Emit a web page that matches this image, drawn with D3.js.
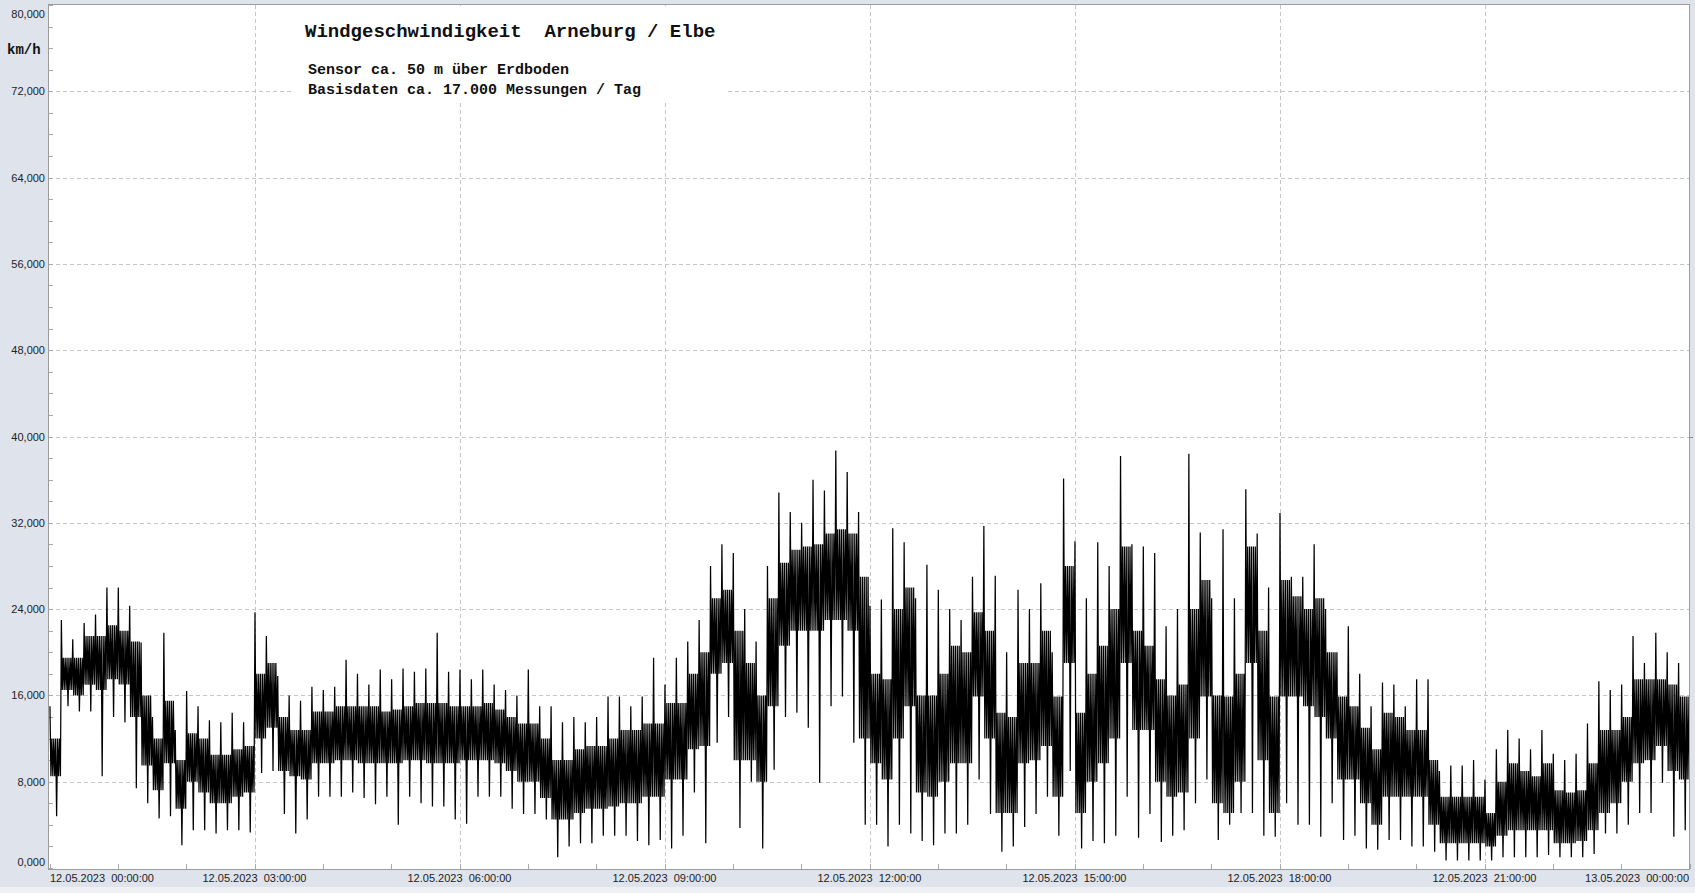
<!DOCTYPE html>
<html><head><meta charset="utf-8">
<script src="https://cdn.jsdelivr.net/npm/d3@7"></script>
<style>
html,body{margin:0;padding:0;background:#dfe3ec;overflow:hidden}
svg{display:block}
</style></head><body>
<svg id="c" width="1695" height="893"></svg>
<script>
// ---- data (km/h), 10-minute bins ----
const binMinutes = 10;
const startDate = "2023-05-12T00:00:00Z";
const endDate = "2023-05-13T00:00:00Z";
const yTicks = [0, 8, 16, 24, 32, 40, 48, 56, 64, 72, 80];
const xTickHours = [0, 3, 6, 9, 12, 15, 18, 21, 24];
const titleText = "Windgeschwindigkeit  Arneburg / Elbe";
const subText1 = "Sensor ca. 50 m über Erdboden";
const subText2 = "Basisdaten ca. 17.000 Messungen / Tag";
const unitText = "km/h";

const binLo = [4.8,15,14.5,14.5,8.5,14, 13.5,7.4,6,4.6,4.8,2.1, 3.5,3.5,3.2,3.5,3.5,3.3, 8.8,9,5,3.2,4.5,6.6,
 6.6,6.6,7,6.5,5.9,6.6, 4,6.6,6,5.7,5.7,4.5, 4.1,6.6,6.6,6.6,5.5,5, 5,4.5,1,2,2.3,2.3,
 3,3,3,2.5,2.1,2.6, 1.8,3,7,2.3,11.6,14, 3.7,8,1.8,9.1,14,14.4, 13,7.9,15,15.9,11.6,4,
 4,2,4,3.2,2.5,2.1, 3.2,3.2,4,8.2,5,1.5, 2,3.8,5,6.6,3,9, 1.8,2.5,2.3,3,6.6,2.8,
 5,2.4,3,3.5,6,8.2, 2.6,4,5.1,5.1,3,2.9, 6,4,4,2.9,6,2.6, 3,1.8,1.7,2.6,2.6,2,
 2,1.5,0.7,0.7,0.7,0.7, 0.7,1,1,1,1,1.2, 1,1,1,1.3,3.2,3.2, 4,5.1,5.1,7.9,2.9,3.5];
const binCoreLo = [8.5,16.5,16,17,16.5,17.5, 17,14,9.5,7.2,9.7,5.5, 8,7,6,6,6.6,7, 12,13,9,8.5,8.2,9.7,
 9.7,10,10,9.7,9.7,9.7, 9.7,10,10,9.7,9.7,9.7, 10,10,10,9.7,9,8, 8,6.5,4.5,4.5,5.1,5.5,
 5.5,5.7,6,6,6.6,6.6, 8.2,8.2,11,11.3,18,19, 10,10,8,15,20.6,22, 22,22,23,23,22,12,
 9.7,8.2,12,15,7,6.6, 8,9.7,9.7,15.9,12,5.1, 5.1,9.7,10,11.3,6.6,19, 5.1,8,9.7,12,19,12.8,
 12.8,8,6.6,7,12,15.9, 6,5.1,8,19,10,5.1, 15.9,15.9,15,14,12,8.2, 8.2,6,4,6.6,6.6,6.6,
 6.6,4,2.3,2.3,2.3,2.3, 2,3,3.5,3.5,3.5,3.5, 2.3,2.3,2.5,3.5,5.1,6, 8,9.7,10,11.3,9,8.2];
const binCoreHi = [12,19.5,19.5,21.5,21.5,22.5, 22,21,16,12,15.5,10, 12.5,12,10.5,10.5,11,11.3, 18,19,14,12.8,12.8,14.5,
 14.5,15,15,15,15,14.5, 14.7,15,15.3,15.3,15.3,15, 15,15,15.3,14.7,14,13.4, 13.4,12,10,10,11,11.3,
 11.3,12,12.8,12.8,13.4,13.4, 15.3,15.3,18,20,25,25.8, 22,19,16,25,28.3,29.5, 29.8,30,31,31.4,31,27,
 18,17.5,24,26,16,16, 18,20.6,20,23.7,22,14.4, 14,19,19,22,15.9,28, 14.4,18,20.6,24,29.8,22,
 20.6,17.5,16,17,24,26.7, 16,15.9,18,29.8,22,15.9, 26.7,25.2,24,25,20,15.9, 15,13,11,14.4,14,12.8,
 12.8,10,6.6,6.6,6.6,6.6, 5.1,8,9.7,9,8.5,9.7, 7.2,7,7.2,9.7,12.8,12.8, 14,17.5,17.5,17.5,17,15.9];
const binHi = [15,23,21.2,22.7,23.5,26, 26,24.3,20.9,14,21.8,12.8, 16.4,15,13.7,13.5,14.4,13.5, 23.7,21.5,17.8,16,15.5,16.8,
 16.5,16.8,19.3,18,17,18.4, 17.5,18.5,18.2,18.5,21.8,18.2, 18.4,17.5,18.4,17,16.5,16, 18.4,15,15,13.5,14,13.5,
 14,15.9,15.9,15,15.9,19.5, 17,19.5,21,23,28,30, 29.2,24,21,28,34.8,33, 32,36,35,38.7,36.7,33,
 24.3,24.9,31.5,30.2,25,28.1, 25.8,24,23,27,31.7,27.1, 20,25.8,24,26.4,20,36.1, 30.3,25,30.2,28,38.2,30,
 29.8,29.2,22.4,24,38.4,31.1, 25,31.4,25,35.1,31,26, 32.9,27,27,30,24,20, 22.4,18,15,17.2,17,15,
 17.5,17.5,9,9.5,9.5,10, 8.2,11,12.8,12,11,12.8, 10.6,10,10.6,13.4,17.3,16.5, 17,21.5,19,21.8,20,19];

// ---- layout ----
const W = 1695, H = 893;
const PL = 49, PR = 1689, PT = 5, PB = 869;
const svg = d3.select("#c");
svg.append("rect").attr("width", W).attr("height", H).attr("fill", "#dfe3ec");
svg.append("rect").attr("x", 0).attr("y", 887).attr("width", W).attr("height", 6).attr("fill", "#eef0f4");
svg.append("rect").attr("x", PL).attr("y", PT).attr("width", PR - PL).attr("height", PB - PT).attr("fill", "#ffffff");

const t0 = new Date(startDate), t1 = new Date(endDate);
const x = d3.scaleUtc().domain([t0, t1]).range([PL + 0.5, PR + 0.5]);
const y = d3.scaleLinear().domain([0, 80]).range([868, 5]);
const hourDate = h => new Date(t0.getTime() + h * 3600000);

// grid
const grid = svg.append("g").attr("stroke", "#c6c6c6").attr("stroke-width", 1).attr("stroke-dasharray", "4,3").attr("fill", "none");
yTicks.filter(v => v > 0 && v < 80).forEach(v => {
  const yy = Math.round(y(v)) + 0.5;
  grid.append("line").attr("x1", PL).attr("x2", PR).attr("y1", yy).attr("y2", yy);
});
xTickHours.filter(h => h > 0 && h < 24).forEach(h => {
  const xx = Math.round(x(hourDate(h))) + 0.5;
  grid.append("line").attr("x1", xx).attr("x2", xx).attr("y1", PT).attr("y2", PB);
});

// minor ticks
const ticks = svg.append("g").attr("stroke", "#a8a8a8").attr("stroke-width", 1);
d3.range(0, 81, 2).forEach(v => {
  const yy = Math.round(y(v)) + 0.5;
  ticks.append("line").attr("x1", PL).attr("x2", PL + 4).attr("y1", yy).attr("y2", yy);
});
d3.range(0, 25, 1).forEach(h => {
  const xx = Math.round(x(hourDate(h))) + 0.5;
  ticks.append("line").attr("x1", xx).attr("x2", xx).attr("y1", PB - 5).attr("y2", PB);
});

// title box
svg.append("rect").attr("x", 293).attr("y", PT + 1).attr("width", 434).attr("height", 94).attr("fill", "#ffffff");

// data: each 10-min bin drawn as a dense trace visiting its read extremes and core edges
svg.append("clipPath").attr("id", "clip").append("rect").attr("x", PL).attr("y", PT).attr("width", PR - PL).attr("height", PB - PT);
const bins = binLo.map((lo, i) => ({
  start: new Date(t0.getTime() + i * binMinutes * 60000),
  lo, cl: binCoreLo[i], ch: binCoreHi[i], hi: binHi[i]
}));
const at = (b, m) => new Date(b.start.getTime() + m * 60000);
const order = ["hi", "cl", "ch", "cl", "ch", "cl", "ch", "lo", "ch", "cl", "ch", "cl"];
const pts = [];
bins.forEach(b => {
  order.forEach((k, j) => pts.push([at(b, (j + 0.5) * binMinutes / order.length), b[k]]));
});
const g = svg.append("g").attr("clip-path", "url(#clip)");
const line = d3.line().x(p => x(p[0])).y(p => y(p[1]));
g.append("path").datum(pts).attr("d", line).attr("fill", "none").attr("stroke", "#000").attr("stroke-width", 1.25);

// frame
svg.append("rect").attr("x", PL - 0.5).attr("y", PT - 0.5).attr("width", PR - PL + 1).attr("height", PB - PT + 1)
  .attr("fill", "none").attr("stroke", "#9c9c9c").attr("stroke-width", 1);
svg.append("line").attr("x1", 1690).attr("x2", 1693).attr("y1", 437.5).attr("y2", 437.5).attr("stroke", "#888");

// y labels
const fmtLocale = d3.formatLocale({decimal: ",", thousands: ".", grouping: [3], currency: ["", "€"]});
const fy = fmtLocale.format(".3f");
yTicks.forEach(v => {
  let cy = y(v);
  if (v === 80) cy = 14;
  if (v === 0) cy = 862;
  svg.append("text").attr("x", 45).attr("y", cy + 4).attr("text-anchor", "end")
    .attr("font-family", "Liberation Sans, Arial, sans-serif").attr("font-size", 11).attr("fill", "#222")
    .text(fy(v));
});

// x labels
const fx = d3.utcFormat("%d.%m.%Y  %H:%M:%S");
xTickHours.forEach(h => {
  const d = hourDate(h);
  let anchor = "middle", xx = x(d);
  if (h === 0) { anchor = "start"; xx = PL + 1; }
  if (h === 24) { anchor = "end"; xx = PR; }
  svg.append("text").attr("x", xx).attr("y", 882).attr("text-anchor", anchor)
    .attr("font-family", "Liberation Sans, Arial, sans-serif").attr("font-size", 11).attr("fill", "#222")
    .style("white-space", "pre")
    .text(fx(d));
});

// texts
const mono = "Liberation Mono, Courier New, monospace";
svg.append("text").attr("x", 7).attr("y", 54).attr("font-family", mono).attr("font-weight", "bold")
  .attr("font-size", 14).attr("fill", "#111").text(unitText);
svg.append("text").attr("x", 305).attr("y", 37).attr("font-family", mono).attr("font-weight", "bold")
  .attr("font-size", 19).attr("fill", "#111").style("white-space", "pre").text(titleText);
svg.append("text").attr("x", 308).attr("y", 74).attr("font-family", mono).attr("font-weight", "bold")
  .attr("font-size", 15).attr("fill", "#111").text(subText1);
svg.append("text").attr("x", 308).attr("y", 94).attr("font-family", mono).attr("font-weight", "bold")
  .attr("font-size", 15).attr("fill", "#111").text(subText2);
</script>
</body></html>
